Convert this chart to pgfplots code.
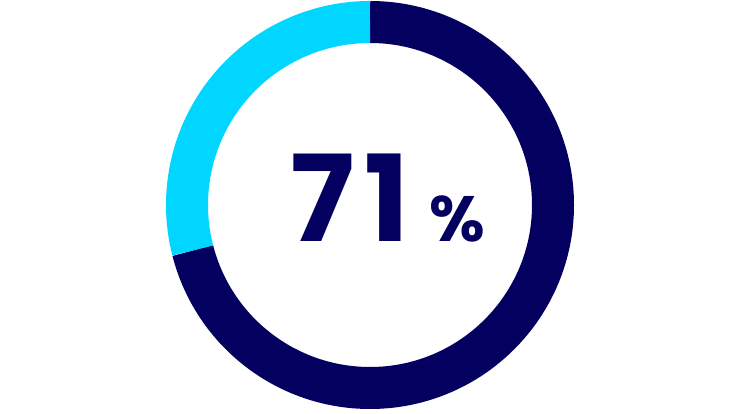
\documentclass[border=0pt]{standalone}
\usepackage{fontspec}
\setmainfont{Poppins}
\usepackage{pgfplots}
\usepackage{pgfplotstable}
\pgfplotsset{compat=1.18}
\definecolor{navy}{HTML}{03005F}
\definecolor{cyanseg}{HTML}{00D6FF}

\pgfplotstableread{
label value
yes 71
no 29
}\donutdata

\begin{document}
\begin{tikzpicture}
\pgfplotstablegetelem{0}{value}\of\donutdata
\pgfmathsetmacro\splitangle{90-3.6*\pgfplotsretval}
\begin{axis}[
    x=1pt, y=1pt,
    xmin=0, xmax=737, ymin=0, ymax=413,
    hide axis,
    clip=false,
    scale only axis,
]
  % ring: outer radius 204, inner 162 -> mid 183, width 42
  \draw[navy, line width=42pt] (axis cs:370,208) ++(90:183)
      arc[start angle=90, end angle=\splitangle, radius=183pt];
  \draw[cyanseg, line width=42pt] (axis cs:370,208) ++(90:183)
      arc[start angle=90, end angle=\splitangle+360, radius=183pt];
  \node[anchor=base west, text=navy, font=\fontsize{120}{120}\selectfont\bfseries, inner sep=0pt]
      at (axis cs:290,171) {7\kern10pt1};
  \node[anchor=base west, text=navy, font=\fontsize{64}{64}\selectfont\bfseries, inner sep=0pt]
      at (axis cs:429,171) {\%};
\end{axis}
\pgfresetboundingbox
\useasboundingbox (0,0) rectangle (737pt,413pt);
\end{tikzpicture}
\end{document}
